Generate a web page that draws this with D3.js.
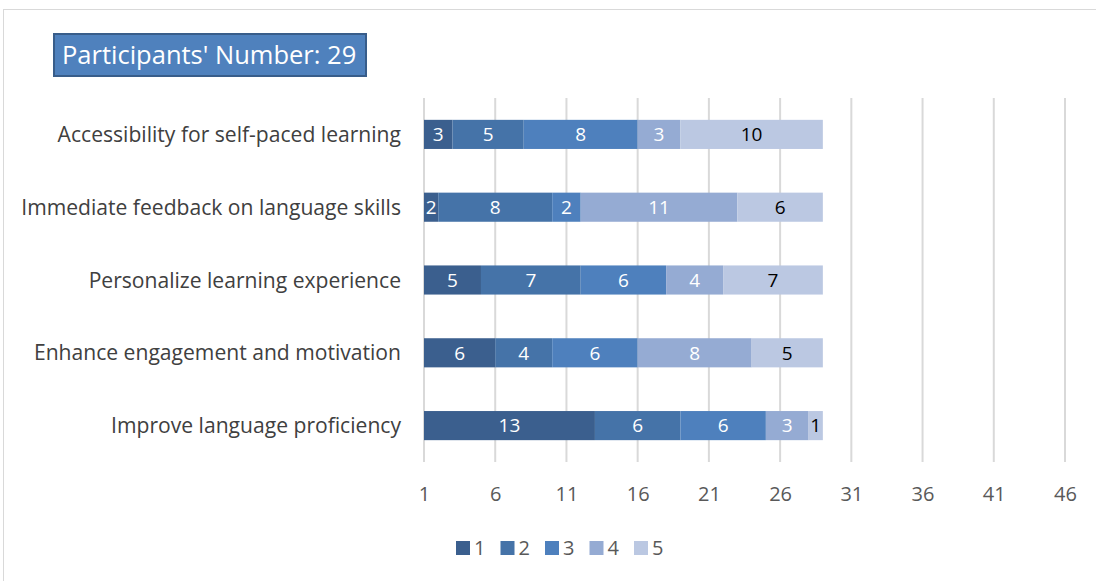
<!DOCTYPE html>
<html><head><meta charset="utf-8">
<script src="https://cdn.jsdelivr.net/npm/d3@7"></script>
<style>body{margin:0;background:#fff;} svg{display:block;}</style>
</head><body>
<script>
const categories = ["Accessibility for self-paced learning","Immediate feedback on language skills","Personalize learning experience","Enhance engagement and motivation","Improve language proficiency"];
const seriesNames = ["1","2","3","4","5"];
const s1 = [3,2,5,6,13];
const s2 = [5,8,7,4,6];
const s3 = [8,2,6,6,6];
const s4 = [3,11,4,8,3];
const s5 = [10,6,7,5,1];
const tickValues = [1,6,11,16,21,26,31,36,41,46];
const colors = ["#3b5f8e","#4573a8","#4e80bd","#95abd3","#bbc8e2"];
const labelColors = ["#fff","#fff","#fff","#fff","#000"];
const font = "Open Sans, sans-serif";

const W=1096,H=581;
const svg=d3.select("body").append("svg").attr("width",W).attr("height",H);
svg.append("rect").attr("x",3.5).attr("y",9.5).attr("width",W).attr("height",H).attr("fill","#fff").attr("stroke","#d9d9d9");

const x=d3.scaleLinear().domain([1,46]).range([424,1065]);
const y=d3.scaleBand().domain(categories).range([98,462]).paddingInner(0.6).paddingOuter(0.3);

// gridlines
svg.append("g").selectAll("line").data(tickValues).join("line")
 .attr("x1",d=>x(d)).attr("x2",d=>x(d)).attr("y1",98).attr("y2",462)
 .attr("stroke","#d9d9d9").attr("stroke-width",2);

const all=[s1,s2,s3,s4,s5];
const rows=categories.map((c,i)=>{const o={cat:c}; seriesNames.forEach((s,j)=>o[s]=all[j][i]); return o;});
const stacked=d3.stack().keys(seriesNames)(rows);

const g=svg.append("g");
stacked.forEach((layer,j)=>{
  layer.forEach(d=>{
    const x0=x(Math.max(1,d[0])), x1=x(d[1]);
    g.append("rect").attr("x",x0).attr("y",y(d.data.cat)).attr("width",x1-x0).attr("height",y.bandwidth()).attr("fill",colors[j]);
    g.append("text").attr("x",(x0+x1)/2).attr("y",y(d.data.cat)+y.bandwidth()/2).attr("dy","0.36em")
     .attr("text-anchor","middle").attr("font-family",font).attr("font-size",19).attr("fill",labelColors[j])
     .text(d[1]-d[0]);
  });
});

// category labels
svg.append("g").selectAll("text").data(categories).join("text")
 .attr("x",401).attr("y",d=>y(d)+y.bandwidth()/2).attr("dy","0.36em").attr("text-anchor","end")
 .attr("font-family",font).attr("font-size",21.1).attr("fill","#404040").text(d=>d);

// x axis
const ax=svg.append("g").attr("transform","translate(0,462)").call(d3.axisBottom(x).tickValues(tickValues).tickSize(0).tickPadding(25));
ax.select(".domain").remove();
ax.selectAll("text").attr("font-family",font).attr("font-size",20).attr("fill","#595959");

// title box
svg.append("rect").attr("x",54).attr("y",34).attr("width",312).attr("height",42).attr("fill","#4f81bd").attr("stroke","#385d8a").attr("stroke-width",2);
svg.append("text").attr("x",62).attr("y",55).attr("dy","0.36em").attr("font-family",font).attr("font-size",25.5).attr("fill","#fff").text("Participants' Number: 29");

// legend
const lg=svg.append("g");
seriesNames.forEach((s,i)=>{
  const lx=456+i*44.5;
  lg.append("rect").attr("x",lx).attr("y",541).attr("width",14).attr("height",14).attr("fill",colors[i]);
  lg.append("text").attr("x",lx+18).attr("y",548).attr("dy","0.36em").attr("font-family",font).attr("font-size",20).attr("fill","#595959").text(s);
});
</script>
</body></html>
